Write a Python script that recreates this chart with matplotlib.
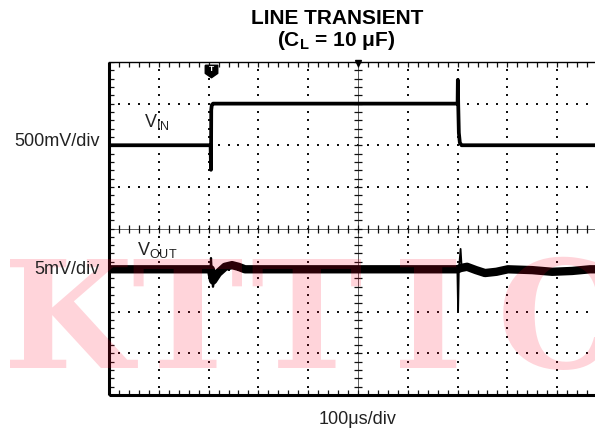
import numpy as np
import matplotlib
matplotlib.use('Agg')
import matplotlib.pyplot as plt

plt.rcParams['font.family'] = ['Liberation Sans', 'DejaVu Sans']
plt.rcParams['mathtext.fontset'] = 'custom'
plt.rcParams['mathtext.rm'] = 'Liberation Sans'
plt.rcParams['mathtext.bf'] = 'Liberation Sans:bold'

W, H = 595, 434

# screen: 10 div x 100 us, 8 vertical div; traces in divisions
vin_t = [0, 204, 204.8, 205.3, 206.5, 209, 700, 700.5, 701.2, 702.5, 704.5, 708, 1000]
vin_y = [6.0, 6.0, 5.41, 6.85, 6.97, 7.0, 7.0, 7.57, 7.0, 6.3, 6.06, 6.0, 6.0]

vout_t = [0, 204.5, 209, 219, 233, 247, 260, 273, 700, 706, 719, 737, 755, 778, 801, 850, 890, 930, 966, 1000]
vout_y = [3.02, 3.02, 2.75, 2.93, 3.08, 3.12, 3.08, 3.02, 3.02, 3.05, 3.08, 3.0, 2.93, 2.96, 3.02, 3.0, 2.96, 2.98, 3.02, 3.02]

spike1_t = [204.0, 204.8, 206.5, 208.8, 211, 214]
spike1_y = [3.02, 3.29, 2.9, 2.6, 2.75, 2.9]
spike2_t = [699.5, 701, 702.5, 706, 708, 712]
spike2_y = [3.02, 2.0, 3.0, 3.51, 3.1, 3.05]

trigger_t = 205
watermark = ['K', 'T', 'T', 'I', 'C']
wm_x = [68, 187, 306, 428, 556]   # letter centres, px


def fx(x):
    return x / W


def fy(y):
    return 1 - y / H


fig = plt.figure(figsize=(W / 100, H / 100), dpi=100)
ax = fig.add_axes([fx(109), fy(395), 498 / W, 333 / H])
ax.set_xlim(0, 1000)
ax.set_ylim(0, 8)
ax.axis('off')

# dotted graticule
minor_x = np.arange(0, 1000.1, 20)
minor_y = np.arange(0, 8.01, 0.2)
for xv in range(100, 1000, 100):
    if xv != 500:
        ax.scatter(np.full_like(minor_y, xv), minor_y, s=1.1, marker='s', color='#111', lw=0)
for yv in range(1, 8):
    if yv != 4:
        ax.scatter(minor_x, np.full_like(minor_x, yv), s=1.1, marker='s', color='#111', lw=0)

# centre cross with ticks
ax.plot([500, 500], [0, 8], color='#444', lw=0.6)
ax.plot([0, 1000], [4, 4], color='#444', lw=0.6)
ax.plot(np.full_like(minor_y, 500), minor_y, ls='none', marker='_', ms=6, mew=0.9, color='#111')
ax.plot(minor_x, np.full_like(minor_x, 4), ls='none', marker='|', ms=6, mew=0.9, color='#111')

# edge ticks
ax.plot(np.zeros_like(minor_y), minor_y, ls='none', marker='_', ms=7, mew=0.9, color='#111')
ax.plot(minor_x, np.zeros_like(minor_x), ls='none', marker='|', ms=7, mew=0.9, color='#111')
ax.plot(minor_x, np.full_like(minor_x, 8), ls='none', marker='|', ms=7, mew=0.9, color='#111')

# frame
ax.plot([0, 0], [0, 8], color='black', lw=2.2, clip_on=False, solid_capstyle='butt')
ax.plot([0, 1000], [0, 0], color='black', lw=2.2, clip_on=False, solid_capstyle='butt')
ax.plot([0, 1000], [8, 8], color='black', lw=1.0, clip_on=False)

# traces
ax.plot(vin_t, vin_y, color='black', lw=2.7, solid_joinstyle='round')
ax.plot(vout_t, vout_y, color='black', lw=6.0, solid_joinstyle='round')
ax.plot(spike1_t, spike1_y, color='black', lw=1.6)
ax.plot(spike2_t, spike2_y, color='black', lw=1.3)

# trigger marker + centre marker
shield = [(-1, 1), (1, 1), (1, -0.3), (0, -1), (-1, -0.3), (-1, 1)]
ax.plot([trigger_t], [7.79], marker=shield, ms=9, color='black', clip_on=False)
ax.text(trigger_t, 7.82, 'T', color='white', fontsize=6, fontweight='bold', ha='center', va='center')
ax.plot([500], [7.97], marker='v', ms=4, color='black', clip_on=False)

# labels
fig.text(fx(337), fy(19), 'LINE TRANSIENT', ha='center', va='center', fontsize=15, fontweight='bold', zorder=3)
fig.text(fx(336), fy(40), r'(C$_\mathbf{L}$ = 10 μF)', ha='center', va='center', fontsize=15, fontweight='bold', zorder=3)
fig.text(fx(100), fy(142), '500mV/div', ha='right', va='center', fontsize=13, color='#222', zorder=3)
fig.text(fx(100), fy(269), '5mV/div', ha='right', va='center', fontsize=13, color='#222', zorder=3)
fig.text(fx(144), fy(127), r'V$_{\rm IN}$', ha='left', va='baseline', fontsize=13, color='#222', zorder=3)
fig.text(fx(137), fy(255), r'V$_{\rm OUT}$', ha='left', va='baseline', fontsize=13, color='#222', zorder=3)
fig.text(fx(357.5), fy(420), '100μs/div', ha='center', va='center', fontsize=13, color='#222', zorder=3)

# watermark
for letter, x in zip(watermark, wm_x):
    fig.text(fx(x), fy(368), letter, ha='center', va='baseline', fontsize=108,
             family='DejaVu Serif', fontweight='bold', color=(1.0, 0.0, 0.16), alpha=0.17, zorder=2.5)

fig.savefig('out.png', dpi=100)
